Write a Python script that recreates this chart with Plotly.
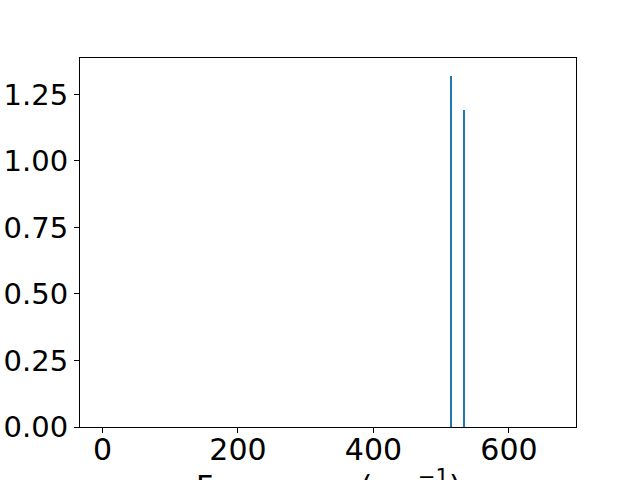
import plotly.graph_objects as go

# Data
frequencies = [514, 533.5]
intensities = [1.321, 1.19]
bar_widths = [3.0, 1.5]
x_ticks = [0, 200, 400, 600]
y_ticks = [0.0, 0.25, 0.5, 0.75, 1.0, 1.25]
y_tick_labels = ["0.00", "0.25", "0.50", "0.75", "1.00", "1.25"]

fig = go.Figure()
fig.add_trace(go.Bar(
    x=frequencies, y=intensities, width=bar_widths,
    marker=dict(color="#1f77b4", line=dict(width=0)),
))

font = dict(family="DejaVu Sans", size=30, color="black")
fig.update_layout(
    width=640, height=480,
    margin=dict(l=80, r=64, t=58, b=53, autoexpand=False),
    plot_bgcolor="white", paper_bgcolor="white",
    font=font, showlegend=False, bargap=0,
    xaxis=dict(range=[-33.2, 699], tickvals=x_ticks, ticks="outside", ticklen=5,
               tickwidth=1, tickcolor="black", showline=True, linecolor="black",
               linewidth=1, mirror=True, showgrid=False, zeroline=False,
               tickfont=font, automargin=False, ticklabelstandoff=-9),
    yaxis=dict(range=[0, 1.387], tickvals=y_ticks, ticktext=y_tick_labels,
               ticks="outside", ticklen=5, tickwidth=1, tickcolor="black",
               showline=True, linecolor="black", linewidth=1, mirror=True,
               showgrid=False, zeroline=False,
               tickfont=dict(family="DejaVu Sans", size=29, color="black"),
               automargin=False, ticklabelstandoff=0),
    annotations=[dict(text="Frequency (cm<sup>−1</sup>)", xref="paper", yref="paper",
                      x=0.5, y=-0.097, xanchor="center", yanchor="top",
                      showarrow=False, font=font)],
)

fig.write_html("out.html", config={"displayModeBar": False},
               post_script="document.body.style.margin='0';document.body.style.overflow='hidden';")
